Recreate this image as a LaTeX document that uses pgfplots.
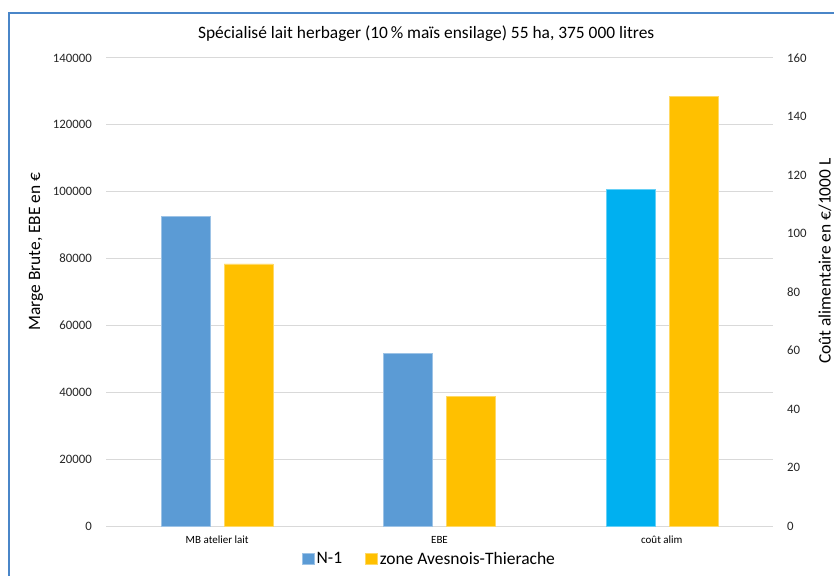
\documentclass[border=0pt]{standalone}
\usepackage{fontspec}
\setmainfont{Carlito}
\usepackage{pgfplots}
\pgfplotsset{compat=1.18}
\definecolor{cN}{HTML}{5B9BD5}
\definecolor{cZ}{HTML}{FFC000}
\definecolor{cC}{HTML}{00B0F0}
\definecolor{gridc}{HTML}{D9D9D9}
\definecolor{framec}{HTML}{4A86C8}
\definecolor{txt}{HTML}{262626}
\begin{document}
\begin{tikzpicture}
\useasboundingbox (0pt,0pt) rectangle (834pt,575pt);
\fill[white] (0pt,0pt) rectangle (834pt,575pt);
\draw[framec, line width=2pt] (9pt,-2pt) -- (9pt,562pt) -- (836pt,562pt);
\pgfplotsset{
  common/.style={
    at={(106pt,49pt)}, anchor=south west,
    scale only axis, width=667pt, height=468pt,
    xmin=-0.5, xmax=2.5,
    axis line style={draw=none},
    major tick length=0pt,
    ybar, bar width=49pt,
  }
}
\begin{axis}[common,
  ymin=0, ymax=140000, ytick={0,20000,40000,60000,80000,100000,120000,140000},
  yticklabels={0,20000,40000,60000,80000,100000,120000,140000},
  scaled y ticks=false,
  ymajorgrids, grid style={gridc, line width=1pt},
  yticklabel style={font=\fontsize{12.8}{14}\selectfont, color=txt, inner sep=0pt, xshift=-14pt},
  xtick={0,1,2}, xticklabels={MB atelier lait, EBE, coût alim},
  xticklabel style={font=\fontsize{11}{13}\selectfont, color=black, inner sep=0pt, yshift=-10pt},
  ylabel={Marge Brute, EBE en €},
  ylabel style={at={(axis description cs:-0.105,0.5865)}, anchor=center, font=\fontsize{17.4}{20}\selectfont},
  title={Spécialisé lait herbager (10\,\% maïs ensilage) 55 ha, 375 000 litres},
  every axis title shift=0pt,
  title style={at={(axis description cs:0.48,1.051)}, anchor=center, font=\fontsize{17.4}{20}\selectfont},
  legend style={at={(0.485,-0.0705)}, anchor=center, draw=none, fill=none,
    legend columns=2, font=\fontsize{17.5}{20}\selectfont,
    /tikz/every even column/.append style={column sep=21pt},
    inner sep=0pt},
  legend image code/.code={\fill[#1] (0pt,-5.5pt) rectangle (12pt,5.5pt);},
]
\addplot[fill=cN, draw=cN!60!white, line width=0.6pt, bar shift=-31.5pt] coordinates {(0,92700) (1,51700)};
\addplot[fill=cZ, draw=cZ!60!white, line width=0.6pt, bar shift=31.5pt] coordinates {(0,78400) (1,38800)};
\legend{N-1, zone Avesnois-Thierache}
\end{axis}
\begin{axis}[common,
  ymin=0, ymax=160, ytick={0,20,40,60,80,100,120,140,160},
  yticklabels={0,20,40,60,80,100,120,140,160},
  yticklabel pos=right,
  yticklabel style={font=\fontsize{12.8}{14}\selectfont, color=txt, inner sep=0pt, xshift=14pt},
  xtick=\empty,
  ylabel={Coût alimentaire en €/1000 L},
  ylabel style={at={(axis description cs:1.078,0.566)}, anchor=center, font=\fontsize{17.4}{20}\selectfont},
]
\addplot[fill=cC, draw=cC!60!white, line width=0.6pt, bar shift=-31.5pt] coordinates {(2,115)};
\addplot[fill=cZ, draw=cZ!60!white, line width=0.6pt, bar shift=31.5pt] coordinates {(2,147)};
\end{axis}
\end{tikzpicture}
\end{document}
